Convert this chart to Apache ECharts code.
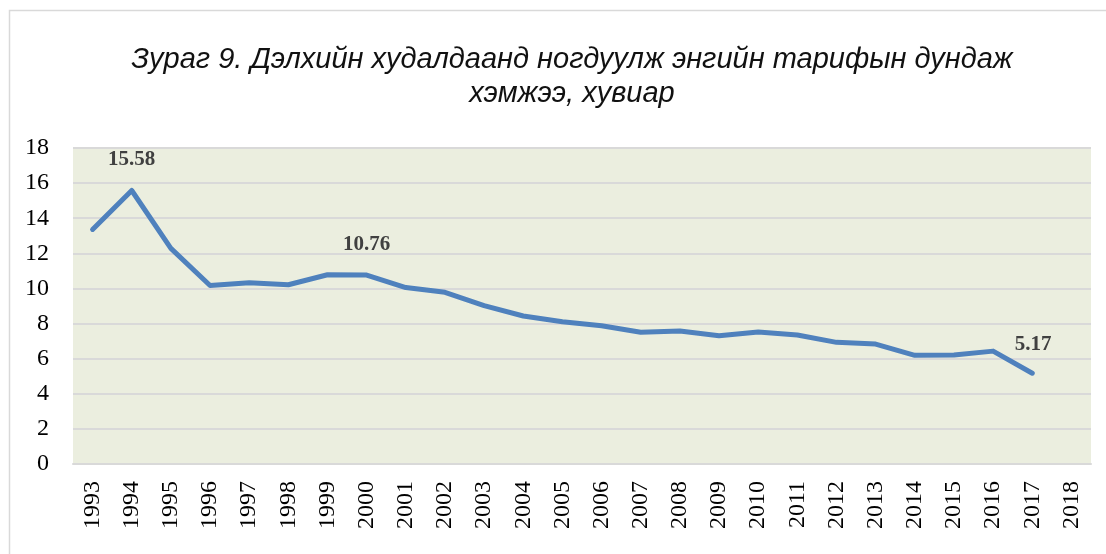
<!DOCTYPE html>
<html>
<head>
<meta charset="utf-8">
<script src="https://cdn.jsdelivr.net/npm/echarts@6/dist/echarts.min.js"></script>
<style>
html,body{margin:0;padding:0;background:#fff;}
#chart{width:1106px;height:554px;}
</style>
</head>
<body>
<div id="chart"></div>
<script>
var years = ['1993','1994','1995','1996','1997','1998','1999','2000','2001','2002','2003','2004','2005',
	'2006','2007','2008','2009','2010','2011','2012','2013','2014','2015','2016','2017','2018'];
var tariff = [13.36, 15.58, 12.28, 10.17, 10.33, 10.21, 10.78, 10.76, 10.05, 9.78, 9.02, 8.43, 8.1,
	7.88, 7.5, 7.57, 7.31, 7.52, 7.35, 6.93, 6.83, 6.19, 6.21, 6.43, 5.17, null];
// only these points carry a label
var labelled = ['1994', '2000', '2017'];
var yTicks = [0, 2, 4, 6, 8, 10, 12, 14, 16, 18];

var myChart = echarts.init(document.getElementById('chart'));

var seriesData = tariff.map(function (v, i) {
	var item = { value: v };
	if (labelled.indexOf(years[i]) >= 0) {
		item.label = {
			show: true,
			position: years[i] === '2017' ? [-17, -39] : 'top',
			distance: 20,
			formatter: function (p) { return p.value.toFixed(2); }
		};
	}
	return item;
});

var option = {
	animation: false,
	backgroundColor: '#fff',
	title: {
		text: 'Зураг 9. Дэлхийн худалдаанд ногдуулж энгийн тарифын дундаж\nхэмжээ, хувиар',
		left: 567,
		textAlign: 'center',
		top: 38,
		textStyle: {
			fontFamily: 'Liberation Sans',
			fontStyle: 'italic',
			fontWeight: 'normal',
			fontSize: 29,
			lineHeight: 34,
			color: '#111'
		}
	},
	graphic: [{
		type: 'rect',
		shape: { x: 9.5, y: 10.5, width: 1200, height: 600 },
		style: { fill: 'none', stroke: '#d9d9d9', lineWidth: 1.5 },
		silent: true
	}],
	grid: {
		left: 73,
		right: 15,
		top: 148,
		bottom: 90,
		show: true,
		backgroundColor: '#ebeedf',
		borderWidth: 0
	},
	xAxis: {
		type: 'category',
		data: years,
		boundaryGap: true,
		axisLine: { lineStyle: { color: '#d9d9d9', width: 2 } },
		axisTick: { show: false },
		axisLabel: {
			rotate: 90,
			interval: 0,
			margin: 17,
			fontFamily: 'Liberation Serif',
			fontSize: 24,
			color: '#000'
		}
	},
	yAxis: {
		type: 'value',
		min: yTicks[0],
		max: yTicks[yTicks.length - 1],
		interval: 2,
		axisLine: { show: false },
		axisTick: { show: false },
		axisLabel: {
			margin: 24,
			fontFamily: 'Liberation Serif',
			fontSize: 24,
			color: '#000'
		},
		splitLine: { lineStyle: { color: '#d9d9d9', width: 2 } }
	},
	series: [{
		type: 'line',
		data: seriesData,
		symbol: 'circle',
		symbolSize: 1,
		showSymbol: true,
		lineStyle: { color: '#4f81bd', width: 5, cap: 'round', join: 'round' },
		itemStyle: { color: '#4f81bd' },
		label: {
			fontFamily: 'Liberation Serif',
			fontWeight: 'bold',
			fontSize: 21,
			color: '#404040'
		}
	}]
};

myChart.setOption(option);
</script>
</body>
</html>
